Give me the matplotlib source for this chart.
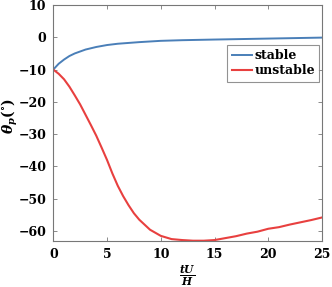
import numpy as np
import matplotlib
matplotlib.use('Agg')
import matplotlib.pyplot as plt

# datos
t_stable = [0, 0.5, 1, 1.5, 2, 3, 4, 5, 6, 8, 10, 12, 15, 20, 25]
theta_stable = [-10, -8.2, -6.9, -5.8, -5.0, -3.8, -3.0, -2.4, -2.0, -1.5, -1.1, -0.9, -0.7, -0.4, -0.1]

t_unstable = [0, 0.5, 1, 1.5, 2, 2.5, 3, 3.5, 4, 4.5, 5, 5.5, 6, 6.5, 7, 7.5, 8, 9, 10, 11,
              12, 13, 14, 15, 16, 17, 18, 19, 20, 21, 22, 23, 24, 25]
theta_unstable = [-10, -11.3, -13.0, -15.3, -18.0, -20.8, -24.0, -27.2, -30.5, -34.2, -38.0,
                  -42.2, -46.0, -49.2, -52.0, -54.5, -56.5, -59.6, -61.5, -62.5,
                  -62.8, -63.0, -63.0, -62.8, -62.2, -61.6, -60.8, -60.2, -59.3, -58.8,
                  -58.0, -57.3, -56.6, -55.8]

plt.rcParams['font.family'] = ['DejaVu Serif']
plt.rcParams['font.weight'] = 'bold'
plt.rcParams['mathtext.fontset'] = 'dejavuserif'

fig = plt.figure(figsize=(3.32, 2.87), dpi=100)
ax = fig.add_axes([0.1605, 0.1613, 0.8095, 0.8213])

ax.plot(t_stable, theta_stable, color='#4a7fb8', linewidth=1.4, label='stable')
ax.plot(t_unstable, theta_unstable, color='#e8403f', linewidth=1.5, label='unstable')

ax.set_xlim(0, 25)
ax.set_ylim(-63, 10)
ax.set_xticks([0, 5, 10, 15, 20, 25])
ax.set_yticks([10, 0, -10, -20, -30, -40, -50, -60])
ax.tick_params(direction='in', length=3, width=0.6, color='#777777',
               top=True, right=True, labelsize=9, pad=5)
for lab in ax.get_xticklabels() + ax.get_yticklabels():
    lab.set_fontweight('bold')
for s in ax.spines.values():
    s.set_color('#777777')
    s.set_linewidth(0.8)

ax.set_xlabel(r'$\frac{tU}{H}$', fontsize=11)
ax.xaxis.set_label_coords(0.5, -0.095)
ax.xaxis.label.set_va('top')
ax.set_ylabel(r'$\theta_p(^{\circ})$', fontsize=10)
ax.yaxis.set_label_coords(-0.125, 0.53)

leg = ax.legend(loc='upper right', bbox_to_anchor=(0.99, 0.83), fontsize=9,
                frameon=True, fancybox=False, handlelength=1.6, handletextpad=0.2,
                borderpad=0.35, labelspacing=0.15, borderaxespad=0)
leg.get_frame().set_edgecolor('#777777')
leg.get_frame().set_linewidth(0.8)
for txt in leg.get_texts():
    txt.set_fontweight('bold')

fig.savefig('out.png', dpi=100)
